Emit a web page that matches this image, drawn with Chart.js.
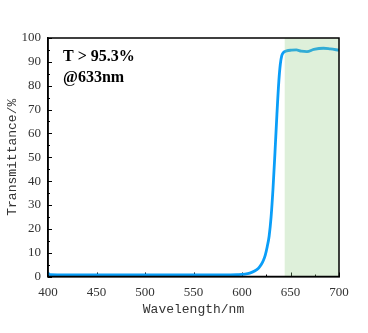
<!DOCTYPE html>
<html>
<head>
<meta charset="utf-8">
<script src="https://cdn.jsdelivr.net/npm/chart.js@4/dist/chart.umd.min.js"></script>
<style>
  html, body { margin: 0; padding: 0; background: #fff; }
  #wrap { width: 368px; height: 333px; }
</style>
</head>
<body>
<div id="wrap"><canvas id="c" width="368" height="333"></canvas></div>
<script>
// Measured transmission spectrum
const wavelength = [400, 402, 420, 450, 500, 550, 580, 595, 603, 608, 613, 617, 620, 622, 624, 626, 628, 630, 632, 634, 636, 638, 639.5, 641, 642.6, 646, 651, 656, 661, 667, 674, 684, 691, 700];
const transmittance = [1.4, 0.8, 0.7, 0.7, 0.7, 0.7, 0.7, 0.8, 1.0, 1.4, 2.3, 3.5, 5.1, 6.7, 9.0, 12.5, 17, 25, 37, 52, 68, 82, 89, 92.6, 93.9, 94.6, 94.9, 95.0, 94.5, 94.3, 95.2, 95.7, 95.4, 94.9];

// Axis ticks
const xTicks = [400, 450, 500, 550, 600, 650, 700];
const yTicks = [0, 10, 20, 30, 40, 50, 60, 70, 80, 90, 100];

// Highlighted pass band
const bandStart = 644;
const bandEnd = 700;

const note = ['T > 95.3%', '@633nm'];
const xTitle = 'Wavelength/nm';
const yTitle = 'Transmittance/%';

const framePlugin = {
  id: 'frame',
  beforeDatasetsDraw(chart) {
    const { ctx, chartArea: a, scales: { x, y } } = chart;
    ctx.save();
    ctx.strokeStyle = '#000';
    ctx.lineWidth = 1;
    // inward ticks on bottom axis
    for (let v = 400; v <= 700; v += 25) {
      const px = Math.round(x.getPixelForValue(v)) + 0.5;
      const len = (v % 50 === 0) ? 4 : 2;
      ctx.beginPath(); ctx.moveTo(px, a.bottom); ctx.lineTo(px, a.bottom - len); ctx.stroke();
    }
    // inward ticks on left axis
    for (let v = 0; v <= 100; v += 5) {
      const py = Math.round(y.getPixelForValue(v)) + 0.5;
      const len = (v % 10 === 0) ? 4 : 2;
      ctx.beginPath(); ctx.moveTo(a.left, py); ctx.lineTo(a.left + len, py); ctx.stroke();
    }
    ctx.restore();
  },
  afterDatasetsDraw(chart) {
    const { ctx, chartArea: a, scales: { x, y } } = chart;
    ctx.save();
    // pass band overlay
    const x0 = x.getPixelForValue(bandStart);
    const x1 = x.getPixelForValue(bandEnd);
    ctx.fillStyle = 'rgba(145,205,131,0.3)';
    ctx.fillRect(x0, a.top, x1 - x0, a.bottom - a.top);
    // plot frame
    ctx.strokeStyle = '#000';
    ctx.lineWidth = 1.5;
    ctx.strokeRect(a.left, a.top, a.right - a.left, a.bottom - a.top);
    // annotation
    ctx.fillStyle = '#000';
    ctx.font = 'bold 16px "Liberation Serif"';
    ctx.textBaseline = 'middle';
    ctx.textAlign = 'left';
    ctx.fillText(note[0], a.left + 15, a.top + 19);
    ctx.fillText(note[1], a.left + 15, a.top + 40);
    // axis titles
    ctx.font = '13px "Liberation Mono"';
    ctx.fillStyle = '#333';
    ctx.textAlign = 'center';
    ctx.fillText(xTitle, (a.left + a.right) / 2, 310);
    ctx.translate(13, (a.top + a.bottom) / 2);
    ctx.rotate(-Math.PI / 2);
    ctx.fillText(yTitle, 0, 0);
    ctx.restore();
  }
};

new Chart(document.getElementById('c'), {
  type: 'line',
  data: {
    datasets: [{
      data: wavelength.map((w, i) => ({ x: w, y: transmittance[i] })),
      borderColor: '#0a9ef8',
      borderWidth: 2.8,
      pointRadius: 0,
      cubicInterpolationMode: 'monotone',
      fill: false
    }]
  },
  options: {
    responsive: false,
    animation: false,
    layout: { padding: { left: 0, right: 29, top: 38, bottom: 0 } },
    plugins: { legend: { display: false }, tooltip: { enabled: false } },
    scales: {
      x: {
        type: 'linear', min: 400, max: 700,
        afterBuildTicks(s) { s.ticks = xTicks.map(v => ({ value: v })); },
        afterFit(s) { s.height = 56.5; },
        grid: { display: false, drawTicks: false },
        border: { display: true, color: '#000', width: 1.5 },
        ticks: { padding: 8, color: '#333', font: { family: 'Liberation Serif', size: 13 }, maxRotation: 0 }
      },
      y: {
        min: 0, max: 100,
        afterBuildTicks(s) { s.ticks = yTicks.map(v => ({ value: v })); },
        afterFit(s) { s.width = 48; },
        grid: { display: false, drawTicks: false },
        border: { display: true, color: '#000', width: 1.5 },
        ticks: { padding: 7, color: '#333', font: { family: 'Liberation Serif', size: 13 } }
      }
    }
  },
  plugins: [framePlugin]
});
</script>
</body>
</html>
